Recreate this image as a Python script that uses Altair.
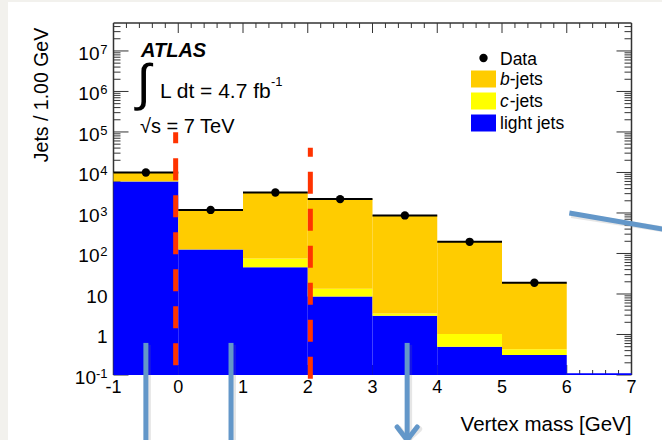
import altair as alt
import pandas as pd

# ---- histogram content: jets per 1 GeV of secondary-vertex mass ----
bin_lo = [-1, 0, 1, 2, 3, 4, 5, 6]
bin_hi = [0, 1, 2, 3, 4, 5, 6, 7]
light_jets = [6000, 125, 46, 8.7, 2.9, 0.50, 0.31, 0.11]
c_jets = [60, 2, 29, 4.8, 0.4, 0.53, 0.12, 0.0]
b_jets = [3940, 1063, 3125, 2187, 877, 193, 18.6, 0.0]
data_counts = [10000, 1190, 3200, 2200, 870, 194, 19]  # no data entries above 6 GeV

flavours = ["light jets", "c-jets", "b-jets"]
flavour_colors = ["#0000ff", "#ffff00", "#ffcc00"]

# ---- axis ranges, ticks and labels ----
x_min, x_max = -1, 7
y_min, y_max = 0.1, 4.9e7
x_major = list(range(-1, 8))
x_labels = ["-1", "0", "1", "2", "3", "4", "5", "6", "7"]
x_minor = [round(-1 + 0.2 * i, 1) for i in range(41) if i % 5 != 0]
y_decades = [-1, 0, 1, 2, 3, 4, 5, 6, 7]
y_label_base = ["10", "1", "10", "10", "10", "10", "10", "10", "10"]
y_label_exp = ["-1", "", "", "2", "3", "4", "5", "6", "7"]
x_title = "Vertex mass [GeV]"
y_title = "Jets / 1.00 GeV"

# ---- vertex-mass cuts (dashed) and pointer arrows ----
cut_x = [-0.04, 2.04]
cut_top = [9.8e4, 4.1e4]
cut_bottom = [0.157, 0.063]
pointer_x = [-0.5, 0.815, 3.535]
pointer_top = 0.62
head_dx = 0.155
slant_x = [6.04, 7.48]
slant_y = [1000, 400]

W, H = 518, 352
FONT = "Liberation Sans"

y_major = [10.0 ** d for d in y_decades]
y_minor = [k * 10.0 ** d for d in y_decades for k in range(2, 10) if k * 10.0 ** d <= y_max]

x_scale = alt.Scale(domain=[x_min, x_max], nice=False, zero=False)
y_scale = alt.Scale(type="log", domain=[y_min, y_max], nice=False)


def X(field, **kw):
    return alt.X(field, scale=x_scale, axis=None, **kw)


def Y(field, **kw):
    return alt.Y(field, scale=y_scale, axis=None, **kw)


# stacked histogram rectangles
rows = []
for lo, hi, lt, cj, bj in zip(bin_lo, bin_hi, light_jets, c_jets, b_jets):
    edges = [y_min, lt, lt + cj, lt + cj + bj]
    for name, y0, y1 in zip(flavours, edges[:-1], edges[1:]):
        if y1 > y0:
            rows.append(dict(lo=lo, hi=hi, y0=y0, y1=y1, flavour=name))
hist = pd.DataFrame(rows)

data_df = pd.DataFrame({
    "lo": bin_lo[:len(data_counts)],
    "hi": bin_hi[:len(data_counts)],
    "n": data_counts,
})
data_df["mid"] = (data_df["lo"] + data_df["hi"]) / 2

one = pd.DataFrame({"k": [0]})

# white page over the grey canvas edge
page = alt.Chart(one).mark_rect(color="white").encode(
    x=alt.value(-105.5), x2=alt.value(548.5), y=alt.value(-21), y2=alt.value(420)
)

# frame (bottom edge is hidden under the histogram)
frame_color = "#333333"
frame = [
    alt.Chart(one).mark_rule(color=frame_color, strokeWidth=1.5).encode(
        x=alt.value(0), y=alt.value(0), y2=alt.value(H)),
    alt.Chart(one).mark_rule(color=frame_color, strokeWidth=1.5).encode(
        x=alt.value(W), y=alt.value(0), y2=alt.value(H)),
    alt.Chart(one).mark_rule(color=frame_color, strokeWidth=1.5).encode(
        y=alt.value(0), x=alt.value(0), x2=alt.value(W)),
]

# inward ticks on all four sides
ymaj = pd.DataFrame({"v": y_major})
ymin_df = pd.DataFrame({"v": y_minor})
xmaj = pd.DataFrame({"v": x_major})
xmin_df = pd.DataFrame({"v": x_minor})


def yticks(df, x0, x1):
    return alt.Chart(df).mark_rule(color=frame_color, strokeWidth=1).encode(
        y=Y("v:Q"), x=alt.value(x0), x2=alt.value(x1))


def xticks(df, y0, y1):
    return alt.Chart(df).mark_rule(color=frame_color, strokeWidth=1).encode(
        x=X("v:Q"), y=alt.value(y0), y2=alt.value(y1))


ticks = [
    yticks(ymaj, 0, 15), yticks(ymin_df, 0, 7),
    yticks(ymaj, W, W - 15), yticks(ymin_df, W, W - 7),
    xticks(xmaj, 0, 10), xticks(xmin_df, 0, 5),
    xticks(xmaj, H, H - 10), xticks(xmin_df, H, H - 5),
]

hist_layer = alt.Chart(hist).mark_rect().encode(
    x=X("lo:Q"), x2="hi:Q",
    y=Y("y0:Q"), y2="y1:Q",
    color=alt.Color("flavour:N", scale=alt.Scale(domain=flavours, range=flavour_colors), legend=None),
)

data_bars = alt.Chart(data_df).mark_rule(color="black", strokeWidth=2).encode(
    x=X("lo:Q"), x2="hi:Q", y=Y("n:Q"),
)
data_pts = alt.Chart(data_df).mark_circle(color="black", opacity=1, size=70).encode(
    x=X("mid:Q"), y=Y("n:Q"),
)

# tick labels: x below the frame, y with superscript exponents
xlab = pd.DataFrame({"v": x_major, "label": x_labels})
xlabels = alt.Chart(xlab).mark_text(
    align="center", baseline="alphabetic", font=FONT, fontSize=18, color="black"
).encode(x=X("v:Q"), y=alt.value(H + 18), text="label:N")

ylab = pd.DataFrame({"v": y_major, "base": y_label_base, "exp": y_label_exp})
ylab["kind"] = ["plain" if e == "" else ("wide" if len(e) > 1 else "digit") for e in y_label_exp]


def ylabel_layer(kind, x_right, field, size, dy):
    return alt.Chart(ylab).transform_filter(alt.datum.kind == kind).mark_text(
        align="right", baseline="alphabetic", font=FONT, fontSize=size, dy=dy, color="black"
    ).encode(y=Y("v:Q"), x=alt.value(x_right), text=f"{field}:N")


ylabels = [
    ylabel_layer("plain", -6, "base", 19, 9),
    ylabel_layer("digit", -14, "base", 19, 9),
    ylabel_layer("wide", -17.5, "base", 19, 9),
    alt.Chart(ylab).transform_filter(alt.datum.kind != "plain").mark_text(
        align="right", baseline="alphabetic", font=FONT, fontSize=13, dy=3, color="black"
    ).encode(y=Y("v:Q"), x=alt.value(-6), text="exp:N"),
]

# cut lines
cuts = []
for cx, ct, cb, off in zip(cut_x, cut_top, cut_bottom, [11, 13]):
    cdf = pd.DataFrame({"x": [cx], "top": [ct], "bot": [cb]})
    cuts.append(alt.Chart(cdf).mark_rule(
        color="#ff3300", strokeWidth=5, strokeDash=[22, 15], strokeDashOffset=off
    ).encode(x=X("x:Q"), y=Y("top:Q"), y2="bot:Q"))


def txt(s, x, y, size, **kw):
    return alt.Chart(one).mark_text(
        text=s, baseline="alphabetic", font=FONT, fontSize=size, color="black", **kw
    ).encode(x=alt.value(x), y=alt.value(y))


# axis titles, experiment label and luminosity
labels = [
    txt(x_title, W, H + 56, 20.5, align="right"),
    txt(y_title, -66, 72, 19.5, align="center", angle=270),
    txt("ATLAS", 27.5, 34, 20, align="left", fontWeight="bold", fontStyle="italic"),
    txt("\u222b", 23, 77, 51, align="left"),
    txt("L dt = 4.7 fb", 46.5, 75, 21, align="left"),
    txt("-1", 157.5, 63, 13, align="left"),
    txt("\u221as = 7 TeV", 26.5, 110, 20, align="left"),
]

# legend
leg_x, leg_text_x = 370, 386.5
legend = [
    alt.Chart(one).mark_circle(color="black", opacity=1, size=70).encode(
        x=alt.value(leg_x), y=alt.value(35)),
    txt("Data", leg_text_x, 41.5, 17.5, align="left"),
]
for (name, color), yc in zip([("b", "#ffcc00"), ("c", "#ffff00"), ("light jets", "#0000ff")], [56, 78, 100]):
    legend.append(alt.Chart(one).mark_rect(color=color).encode(
        x=alt.value(357.5), x2=alt.value(382.5), y=alt.value(yc - 8.5), y2=alt.value(yc + 8.5)))
    if name == "light jets":
        legend.append(txt(name, leg_text_x, yc + 6, 17.5, align="left"))
    else:
        legend.append(txt(name, leg_text_x, yc + 6, 17.5, align="left", fontStyle="italic"))
        legend.append(txt("-jets", leg_text_x + 9.7, yc + 6, 17.5, align="left"))

# pointer arrows (with a faint drop shadow)
arrow_color = "#6397c9"
ptr = pd.DataFrame({"x": pointer_x, "top": [pointer_top] * len(pointer_x)})
head = pd.DataFrame({"x": [pointer_x[2] - head_dx, pointer_x[2] + head_dx],
                     "x2": [pointer_x[2], pointer_x[2]]})
slant = pd.DataFrame({"x": [slant_x[0]], "x2": [slant_x[1]], "y": [slant_y[0]], "y2": [slant_y[1]]})


def arrow_layers(color, opacity, dx, dy, width):
    style = dict(color=color, opacity=opacity, strokeWidth=width, xOffset=dx, yOffset=dy)
    return [
        alt.Chart(ptr).mark_rule(**style).encode(
            x=X("x:Q"), y=Y("top:Q"), y2=alt.value(420)),
        alt.Chart(head).mark_rule(strokeCap="round", **style).encode(
            x=X("x:Q"), x2="x2:Q", y=alt.value(404), y2=alt.value(417)),
        alt.Chart(slant).mark_rule(**style).encode(
            x=X("x:Q"), x2="x2:Q", y=Y("y:Q"), y2="y2:Q"),
    ]


arrows = arrow_layers("#777777", 0.18, 2, 2, 6) + arrow_layers(arrow_color, 1, 0, 0, 5)

chart = alt.layer(
    page, *frame, *ticks, hist_layer, data_bars, data_pts, xlabels, *ylabels, *cuts,
    *labels, *legend, *arrows,
).properties(
    width=W, height=H,
    autosize=alt.AutoSizeParams(type="none"),
    padding={"left": 113.5, "top": 23, "right": 30.5, "bottom": 65},
    background="#f2f1ed",
).configure_view(stroke=None)

chart.save("out.html", embed_options={"renderer": "svg", "actions": False})
